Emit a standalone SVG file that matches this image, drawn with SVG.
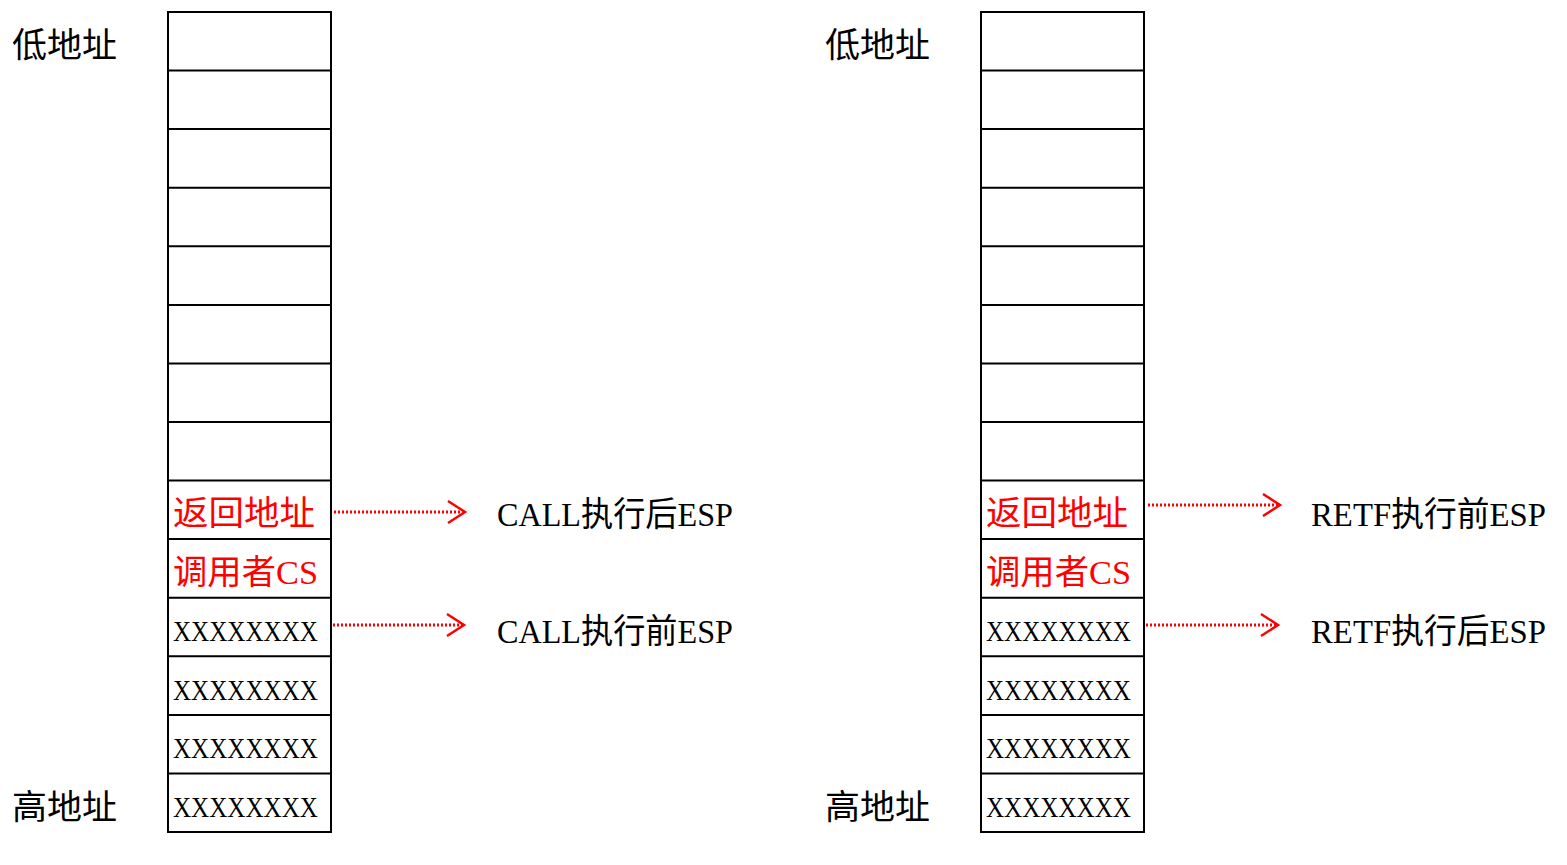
<svg xmlns="http://www.w3.org/2000/svg" width="1567" height="865" viewBox="0 0 1567 865">
<style>
.cell{fill:#fff;stroke:#000;stroke-width:2}
.t{font-family:"Liberation Serif","Noto Sans CJK SC",serif;font-size:34px;fill:#000}
.r{fill:#f00}
.x{font-family:"Liberation Serif",serif;font-size:30px;fill:#000}
.dot{stroke:#f00;stroke-width:3;stroke-dasharray:2 2;fill:none}
.head{stroke:#f00;stroke-width:2.5;fill:none}
</style>
<rect width="1567" height="865" fill="#fff"/>
<g id="left-stack">
<rect class="cell" x="168" y="12" width="163" height="820"/>
<path d="M168 70.6H331M168 129.1H331M168 187.7H331M168 246.3H331M168 304.9H331M168 363.4H331M168 422H331M168 480.6H331M168 539.1H331M168 597.7H331M168 656.3H331M168 714.9H331M168 773.4H331" stroke="#000" stroke-width="2"/>
<text class="t r" x="173" y="525" textLength="142" lengthAdjust="spacingAndGlyphs">返回地址</text>
<text class="t r" x="173" y="584" textLength="145" lengthAdjust="spacingAndGlyphs">调用者CS</text>
<text class="x" x="173" y="641" textLength="145" lengthAdjust="spacingAndGlyphs">XXXXXXXX</text>
<text class="x" x="173" y="700" textLength="145" lengthAdjust="spacingAndGlyphs">XXXXXXXX</text>
<text class="x" x="173" y="758" textLength="145" lengthAdjust="spacingAndGlyphs">XXXXXXXX</text>
<text class="x" x="173" y="817" textLength="145" lengthAdjust="spacingAndGlyphs">XXXXXXXX</text>
</g>
<g id="left-labels">
<text class="t" x="12" y="57" textLength="105" lengthAdjust="spacingAndGlyphs">低地址</text>
<text class="t" x="12" y="819" textLength="105" lengthAdjust="spacingAndGlyphs">高地址</text>
<text class="t" x="497" y="526" textLength="236" lengthAdjust="spacingAndGlyphs">CALL执行后ESP</text>
<text class="t" x="497" y="643" textLength="236" lengthAdjust="spacingAndGlyphs">CALL执行前ESP</text>
</g>
<g id="right-stack">
<rect class="cell" x="981" y="12" width="163" height="820"/>
<path d="M981 70.6H1144M981 129.1H1144M981 187.7H1144M981 246.3H1144M981 304.9H1144M981 363.4H1144M981 422H1144M981 480.6H1144M981 539.1H1144M981 597.7H1144M981 656.3H1144M981 714.9H1144M981 773.4H1144" stroke="#000" stroke-width="2"/>
<text class="t r" x="986" y="525" textLength="142" lengthAdjust="spacingAndGlyphs">返回地址</text>
<text class="t r" x="986" y="584" textLength="145" lengthAdjust="spacingAndGlyphs">调用者CS</text>
<text class="x" x="986" y="641" textLength="145" lengthAdjust="spacingAndGlyphs">XXXXXXXX</text>
<text class="x" x="986" y="700" textLength="145" lengthAdjust="spacingAndGlyphs">XXXXXXXX</text>
<text class="x" x="986" y="758" textLength="145" lengthAdjust="spacingAndGlyphs">XXXXXXXX</text>
<text class="x" x="986" y="817" textLength="145" lengthAdjust="spacingAndGlyphs">XXXXXXXX</text>
</g>
<g id="right-labels">
<text class="t" x="825" y="57" textLength="105" lengthAdjust="spacingAndGlyphs">低地址</text>
<text class="t" x="825" y="819" textLength="105" lengthAdjust="spacingAndGlyphs">高地址</text>
<text class="t" x="1311" y="526" textLength="235" lengthAdjust="spacingAndGlyphs">RETF执行前ESP</text>
<text class="t" x="1311" y="643" textLength="235" lengthAdjust="spacingAndGlyphs">RETF执行后ESP</text>
</g>
<g id="connectors">
<path class="dot" d="M334 512H464"/>
<path class="head" d="M448 501L465 512L448 523"/>
<path class="dot" d="M333 625H463"/>
<path class="head" d="M447 614L464 625L447 636"/>
<path class="dot" d="M1148 505H1279"/>
<path class="head" d="M1263 494L1280 505L1263 516"/>
<path class="dot" d="M1146 625H1277"/>
<path class="head" d="M1261 614L1278 625L1261 636"/>
</g>
</svg>
